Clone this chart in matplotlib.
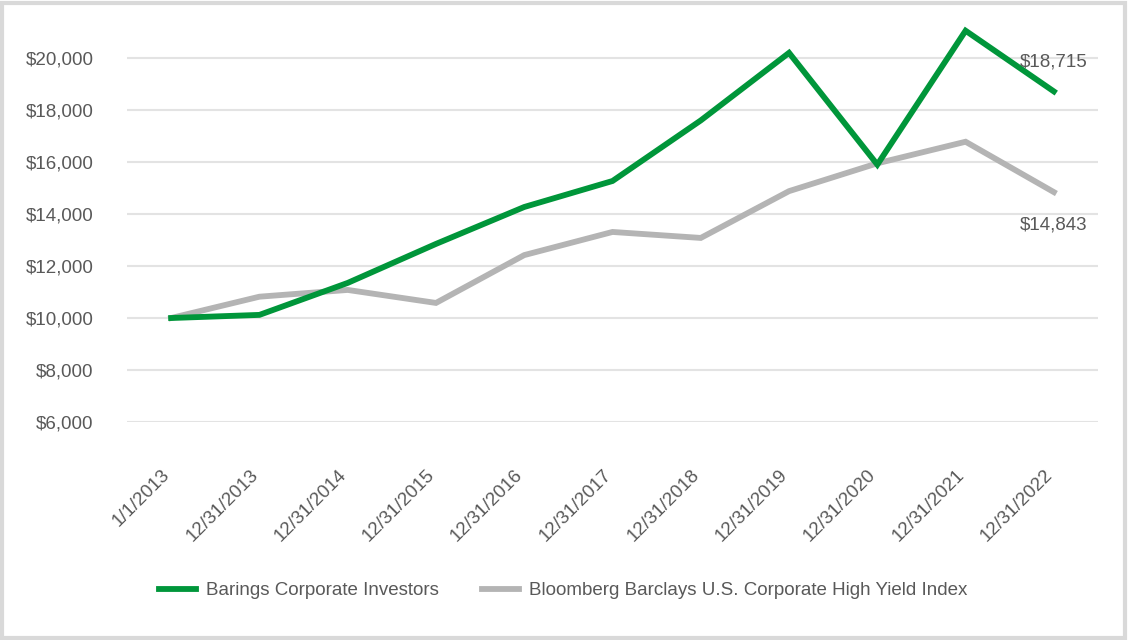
import matplotlib.pyplot as plt
from matplotlib.patches import Rectangle
from matplotlib.ticker import FuncFormatter
from matplotlib.transforms import ScaledTranslation

dates = ["1/1/2013", "12/31/2013", "12/31/2014", "12/31/2015", "12/31/2016",
         "12/31/2017", "12/31/2018", "12/31/2019", "12/31/2020", "12/31/2021",
         "12/31/2022"]
barings = [10000, 10120, 11350, 12850, 14270, 15270, 17600, 20200, 15900, 21050, 18715]
bloomberg = [10000, 10820, 11080, 10580, 12420, 13310, 13080, 14880, 15950, 16780, 14843]

green = "#00963A"
gray = "#B4B4B4"
text_color = "#595959"

plt.rcParams["font.family"] = ["Liberation Sans", "DejaVu Sans"]

fig = plt.figure(figsize=(11.28, 6.4), dpi=100)
ax = fig.add_axes([0.1126, 0.3406, 0.8608, 0.65])

x = list(range(len(dates)))
ax.plot(x, barings, color=green, lw=4.2, label="Barings Corporate Investors",
        solid_joinstyle="miter", zorder=3)
ax.plot(x, bloomberg, color=gray, lw=4.2,
        label="Bloomberg Barclays U.S. Corporate High Yield Index",
        solid_joinstyle="miter", zorder=2)

ax.set_xlim(-0.5, len(dates) - 0.5)
ax.set_ylim(6000, 22000)
ax.set_yticks(range(6000, 20001, 2000))
ax.yaxis.set_major_formatter(FuncFormatter(lambda v, p: f"${v:,.0f}"))
ax.grid(axis="y", color="#E3E3E3", lw=1.5)
ax.set_axisbelow(True)
for s in ax.spines.values():
    s.set_visible(False)

ax.set_xticks(x)
ax.set_xticklabels(dates, rotation=45, ha="right", va="center",
                   rotation_mode="anchor")
ax.tick_params(axis="x", length=0, pad=36, labelsize=13.5, labelcolor=text_color)
ax.tick_params(axis="y", length=0, pad=24, labelsize=13.5, labelcolor=text_color)
# nudge the slanted labels a little to the left
shift = ScaledTranslation(-4 / 100, 0, fig.dpi_scale_trans)
for lbl in ax.get_xticklabels():
    lbl.set_transform(lbl.get_transform() + shift)

ax.text(x[-1] + 0.38, barings[-1] + 1150, f"${barings[-1]:,}", ha="right",
        va="center", fontsize=13.5, color=text_color)
ax.text(x[-1] + 0.38, bloomberg[-1] - 1250, f"${bloomberg[-1]:,}", ha="right",
        va="center", fontsize=13.5, color=text_color)

leg = fig.legend(loc="center", bbox_to_anchor=(0.499, 0.077), ncol=2,
                 frameon=False, fontsize=13.5, handlelength=2.0,
                 columnspacing=2.3, handletextpad=0.5)
for t in leg.get_texts():
    t.set_color(text_color)

fig.patches.append(Rectangle((0.002, 0.003), 0.995, 0.993, transform=fig.transFigure,
                             fill=False, edgecolor="#D9D9D9", lw=3))

fig.savefig("out.png", dpi=100)
